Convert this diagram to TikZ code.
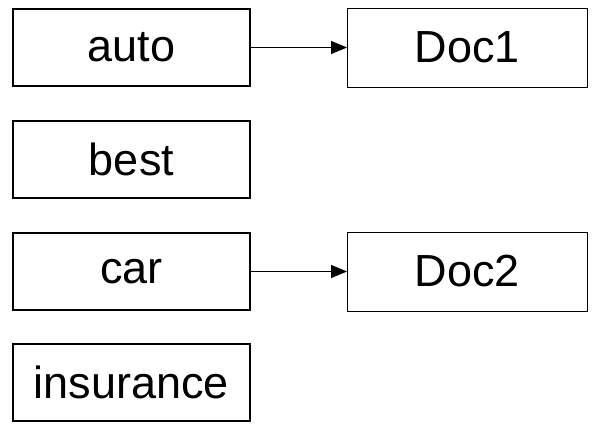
\documentclass[tikz,border=0pt]{standalone}
\usepackage{fontspec}
\setmainfont{Liberation Sans}
\usetikzlibrary{arrows.meta}
\begin{document}
\begin{tikzpicture}[x=1pt,y=-1pt,
  term/.style={draw, line width=1.6pt, minimum width=237pt, minimum height=77pt,
    inner sep=0pt, font=\fontsize{45}{50}\selectfont},
  doc/.style={draw, line width=0.9pt, minimum width=240pt, minimum height=79pt,
    inner sep=0pt, font=\fontsize{45}{50}\selectfont},
  link/.style={line width=1pt, -{Triangle[length=16pt,width=13pt]}}]
\useasboundingbox (0,0) rectangle (597,425);
\node[term] (auto) at (131.5,47.5) {auto};
\node[term] (best) at (131.5,159.5) {best};
\node[term] (car) at (131.5,271.5) {car};
\node[term] (ins) at (131.5,382.5) {insurance};
\node[doc] (doc1) at (467.5,47.5) {Doc1};
\node[doc] (doc2) at (467.5,271.5) {Doc2};
\draw[link] (auto) -- (doc1);
\draw[link] (car) -- (doc2);
\end{tikzpicture}
\end{document}
